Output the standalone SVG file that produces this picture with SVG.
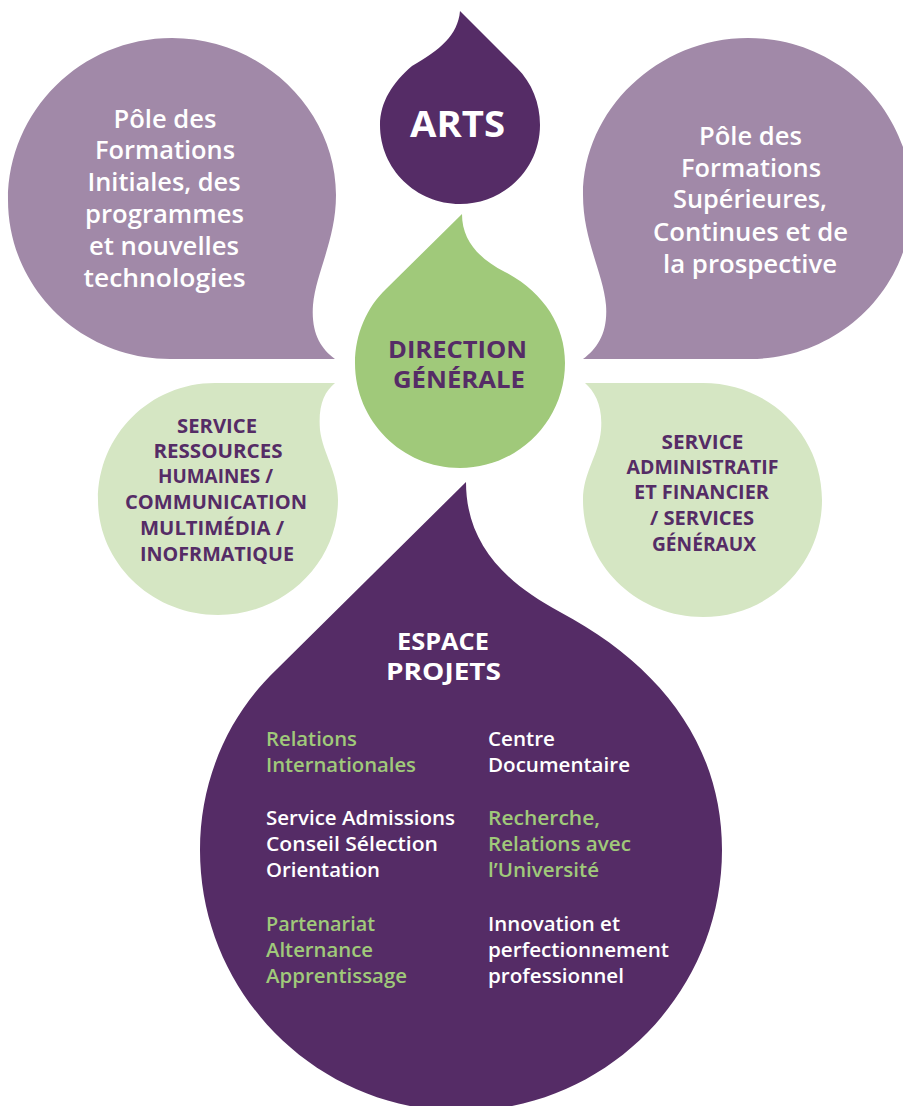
<svg xmlns="http://www.w3.org/2000/svg" width="903" height="1106" viewBox="0 0 903 1106">
<style>
.mauve{fill:#a189a8}
.dark{fill:#552c66}
.green{fill:#a0c97a}
.light{fill:#d5e6c3}
text{font-family:"Open Sans","Liberation Sans",sans-serif}
.pole{font-size:25.5px;font-weight:600;fill:#ffffff;text-anchor:middle}
.svc{font-size:20px;font-weight:700;fill:#552c66;text-anchor:middle}
.title{font-weight:700;text-anchor:middle}
.item{font-size:20px;font-weight:600}
.w{fill:#ffffff}
.g{fill:#a0c97a}
</style>
<rect width="903" height="1106" fill="#ffffff"/>
<g id="connectors"></g>

<g id="pole-initiales">
<path class="mauve" d="M335,359 L170,359 C81,359 8,288 8,200 C8,111 81,38 172,38 C262,38 336,110 336,195 C336,240 316,272 313,305 C311,332 320,348 335,359 Z"/>
<text class="pole" x="165" y="128" textLength="103" lengthAdjust="spacingAndGlyphs">Pôle des</text>
<text class="pole" x="165" y="159" textLength="140" lengthAdjust="spacingAndGlyphs">Formations</text>
<text class="pole" x="164" y="191" textLength="153" lengthAdjust="spacingAndGlyphs">Initiales, des</text>
<text class="pole" x="164.5" y="223" textLength="159" lengthAdjust="spacingAndGlyphs">programmes</text>
<text class="pole" x="164" y="255" textLength="150" lengthAdjust="spacingAndGlyphs">et nouvelles</text>
<text class="pole" x="164.5" y="287" textLength="162" lengthAdjust="spacingAndGlyphs">technologies</text>
</g>

<g id="pole-superieures">
<path class="mauve" d="M583,359 L750,359 C839,359 912,288 912,200 C912,111 839,38 748,38 C658,38 583,110 583,195 C583,240 603,272 606,305 C608,332 598,348 583,359 Z"/>
<text class="pole" x="750.5" y="145" textLength="103" lengthAdjust="spacingAndGlyphs">Pôle des</text>
<text class="pole" x="751" y="177" textLength="140" lengthAdjust="spacingAndGlyphs">Formations</text>
<text class="pole" x="750" y="208" textLength="154" lengthAdjust="spacingAndGlyphs">Supérieures,</text>
<text class="pole" x="750.5" y="241" textLength="195" lengthAdjust="spacingAndGlyphs">Continues et de</text>
<text class="pole" x="750" y="273" textLength="174" lengthAdjust="spacingAndGlyphs">la prospective</text>
</g>

<g id="arts">
<path class="dark" d="M460,11 L517,68 C532,83 540,103 540,125 C540,169 504,204 460,204 C416,204 380,169 380,125 C380,102 393,82 412,66 C440,50 458,35 460,11 Z"/>
<text class="title" x="457.5" y="137" font-size="35" fill="#ffffff" textLength="95" lengthAdjust="spacingAndGlyphs">ARTS</text>
</g>

<g id="direction-generale">
<path class="green" d="M462,214 C462,240 478,258 505,272 C543,292 565,325 565,363 C565,421 518,468 460,468 C402,468 355,421 355,363 C355,334 367,307 386,289 Z"/>
<text class="title" x="457.5" y="358" font-size="23" fill="#552c66" textLength="139" lengthAdjust="spacingAndGlyphs">DIRECTION</text>
<text class="title" x="459" y="388" font-size="23" fill="#552c66" textLength="132" lengthAdjust="spacingAndGlyphs">GÉNÉRALE</text>
</g>

<g id="service-rh">
<path class="light" d="M335,383 L215,383 C150,383 98,435 98,500 C98,563 152,615 218,615 C284,615 338,563 338,500 C338,472 323,454 320,430 C318,406 324,392 335,383 Z"/>
<text class="svc" x="217" y="433" textLength="80" lengthAdjust="spacingAndGlyphs">SERVICE</text>
<text class="svc" x="218" y="458" textLength="129" lengthAdjust="spacingAndGlyphs">RESSOURCES</text>
<text class="svc" x="215.5" y="483" textLength="115" lengthAdjust="spacingAndGlyphs">HUMAINES /</text>
<text class="svc" x="216" y="509" textLength="182" lengthAdjust="spacingAndGlyphs">COMMUNICATION</text>
<text class="svc" x="212" y="535" textLength="144" lengthAdjust="spacingAndGlyphs">MULTIMÉDIA /</text>
<text class="svc" x="217" y="561" textLength="154" lengthAdjust="spacingAndGlyphs">INOFRMATIQUE</text>
</g>

<g id="service-admin">
<path class="light" d="M585,383 L703,383 C769,383 822,435 822,500 C822,565 769,617 703,617 C637,617 583,565 583,500 C583,472 599,455 601,430 C603,406 595,392 585,383 Z"/>
<text class="svc" x="702.5" y="449" textLength="82" lengthAdjust="spacingAndGlyphs">SERVICE</text>
<text class="svc" x="702.5" y="474" textLength="152" lengthAdjust="spacingAndGlyphs">ADMINISTRATIF</text>
<text class="svc" x="701.5" y="499" textLength="135" lengthAdjust="spacingAndGlyphs">ET FINANCIER</text>
<text class="svc" x="702" y="525" textLength="104" lengthAdjust="spacingAndGlyphs">/ SERVICES</text>
<text class="svc" x="704" y="551" textLength="104" lengthAdjust="spacingAndGlyphs">GÉNÉRAUX</text>
</g>

<g id="espace-projets">
<path class="dark" d="M466,482 C466,540 500,580 560,612 C660,665 722,745 722,850 C722,994 605,1111 461,1111 C317,1111 200,994 200,850 C200,780 228,716 276,670 Z"/>
<text class="title" x="443" y="650" font-size="23" fill="#ffffff" textLength="92" lengthAdjust="spacingAndGlyphs">ESPACE</text>
<text class="title" x="443.5" y="680" font-size="23" fill="#ffffff" textLength="115" lengthAdjust="spacingAndGlyphs">PROJETS</text>
<text class="item g" x="266" y="746" textLength="91" lengthAdjust="spacingAndGlyphs">Relations</text>
<text class="item g" x="266" y="772" textLength="150" lengthAdjust="spacingAndGlyphs">Internationales</text>
<text class="item w" x="266" y="825" textLength="189" lengthAdjust="spacingAndGlyphs">Service Admissions</text>
<text class="item w" x="266" y="851" textLength="172" lengthAdjust="spacingAndGlyphs">Conseil Sélection</text>
<text class="item w" x="266" y="877" textLength="114" lengthAdjust="spacingAndGlyphs">Orientation</text>
<text class="item g" x="266" y="931" textLength="109" lengthAdjust="spacingAndGlyphs">Partenariat</text>
<text class="item g" x="266" y="957" textLength="107" lengthAdjust="spacingAndGlyphs">Alternance</text>
<text class="item g" x="266" y="983" textLength="141" lengthAdjust="spacingAndGlyphs">Apprentissage</text>
<text class="item w" x="488" y="746" textLength="67" lengthAdjust="spacingAndGlyphs">Centre</text>
<text class="item w" x="488" y="772" textLength="142" lengthAdjust="spacingAndGlyphs">Documentaire</text>
<text class="item g" x="488" y="825" textLength="112" lengthAdjust="spacingAndGlyphs">Recherche,</text>
<text class="item g" x="488" y="851" textLength="143" lengthAdjust="spacingAndGlyphs">Relations avec</text>
<text class="item g" x="488" y="877" textLength="111" lengthAdjust="spacingAndGlyphs">l’Université</text>
<text class="item w" x="488" y="931" textLength="132" lengthAdjust="spacingAndGlyphs">Innovation et</text>
<text class="item w" x="488" y="957" textLength="181" lengthAdjust="spacingAndGlyphs">perfectionnement</text>
<text class="item w" x="488" y="983" textLength="136" lengthAdjust="spacingAndGlyphs">professionnel</text>
</g>
</svg>
